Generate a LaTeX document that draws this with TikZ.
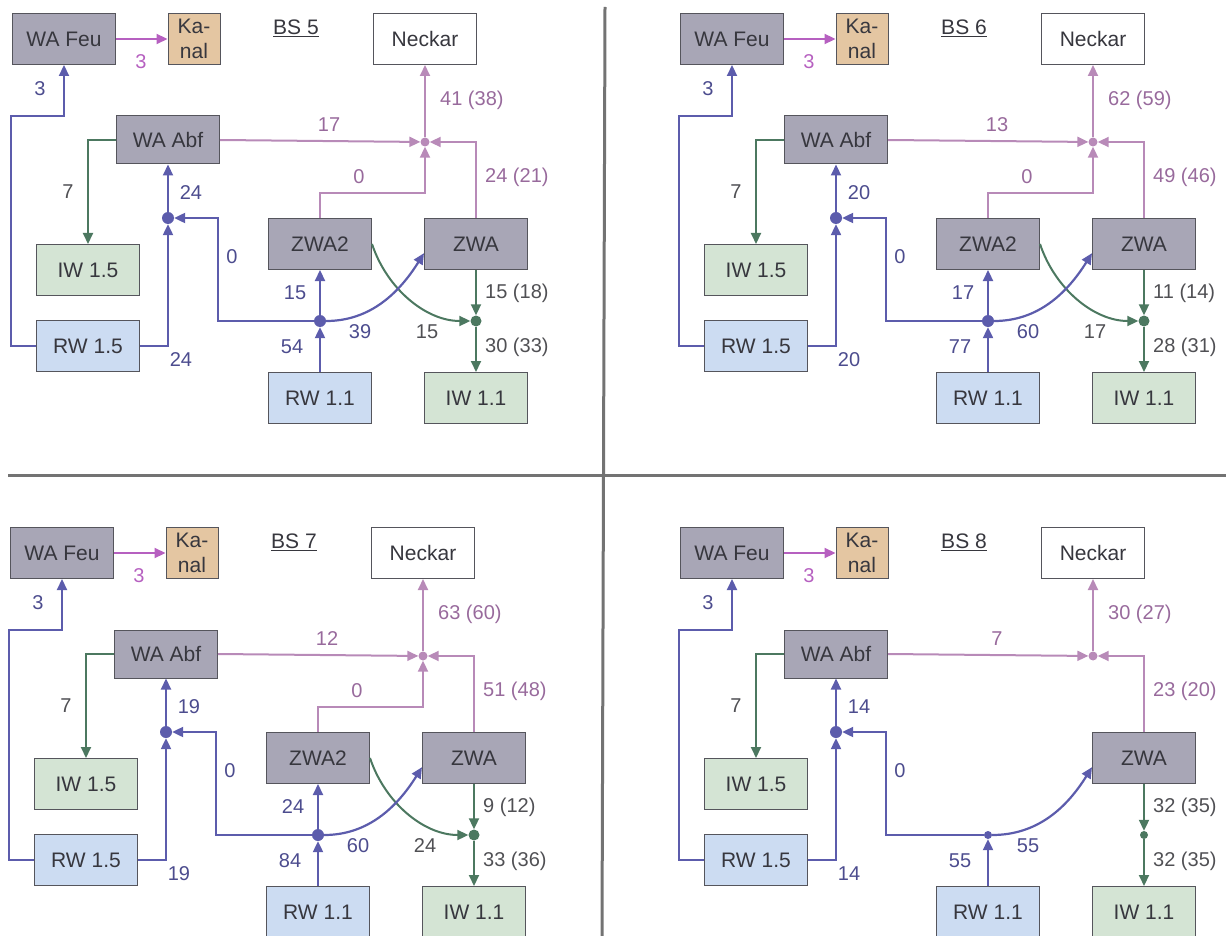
\documentclass[tikz,border=0pt]{standalone}
\usepackage{fontspec}
\setmainfont{Liberation Sans}
\usepackage{tikz}
\usetikzlibrary{arrows.meta}

\definecolor{boxgrey}{RGB}{168,166,182}
\definecolor{boxline}{RGB}{85,85,92}
\definecolor{kanalfill}{RGB}{228,198,162}
\definecolor{iwfill}{RGB}{212,228,212}
\definecolor{rwfill}{RGB}{204,220,242}
\definecolor{blueline}{RGB}{92,92,172}
\definecolor{bluetext}{RGB}{76,76,142}
\definecolor{pinkline}{RGB}{184,138,184}
\definecolor{pinktext}{RGB}{152,106,156}
\definecolor{kanalline}{RGB}{182,96,192}
\definecolor{greenline}{RGB}{76,120,96}
\definecolor{greytext}{RGB}{80,80,84}
\definecolor{boxtext}{RGB}{55,55,62}

\tikzset{
  anybox/.style={draw=boxline, line width=1, inner sep=0, align=center,
    minimum width=103, minimum height=51, text=boxtext,
    font=\fontsize{21}{25}\selectfont},
  greybox/.style={anybox, fill=boxgrey},
  kanalbox/.style={anybox, fill=kanalfill, minimum width=52},
  neckarbox/.style={anybox, fill=white},
  iwbox/.style={anybox, fill=iwfill},
  rwbox/.style={anybox, fill=rwfill},
  bstitle/.style={text=boxtext, inner sep=0, font=\fontsize{21}{25}\selectfont},
  tip/.style={-{Triangle[length=11,width=10]}},
  bline/.style={draw=blueline, line width=2.2, tip},
  pline/.style={draw=pinkline, line width=2, tip},
  kline/.style={draw=kanalline, line width=2.2, tip},
  gline/.style={draw=greenline, line width=2, tip},
  bdot/.style={circle, fill=blueline, inner sep=0, minimum size=12},
  gdot/.style={circle, fill=greenline, inner sep=0, minimum size=11},
  pdot/.style={circle, fill=pinkline, inner sep=0, minimum size=9},
  lab/.style={inner sep=0, font=\fontsize{20}{22}\selectfont},
  btext/.style={lab, text=bluetext},
  ptext/.style={lab, text=pinktext},
  ktext/.style={lab, text=kanalline},
  gtext/.style={lab, text=greytext},
  divider/.style={draw=black!55, line width=3}
}

\begin{document}
\begin{tikzpicture}[x=1pt,y=-1pt]
\useasboundingbox (0,0) rectangle (1226,936);
\draw[divider] (605,7) -- (602,936);
\draw[divider] (8,475) -- (1226,475);

% BS 5
\begin{scope}[name prefix=q5-]
\node[greybox] (feu) at (64,39) {WA Feu};
\node[kanalbox] (kanal) at (194,39) {Ka-\\nal};
\node[bstitle] (title) at (296,28) {\underline{BS 5}};
\node[neckarbox] (neckar) at (425,39) {Neckar};
\node[greybox, minimum height=48] (abf) at (168,140) {WA Abf};
\node[iwbox] (iw15) at (88,270) {IW 1.5};
\node[rwbox] (rw15) at (88,346) {RW 1.5};
\node[greybox] (zwa2) at (320,244) {ZWA2};
\node[greybox] (zwa) at (476,244) {ZWA};
\node[rwbox] (rw11) at (320,398) {RW 1.1};
\node[iwbox] (iw11) at (476,398) {IW 1.1};
\node[bdot] (j1) at (168,218) {};
\node[bdot] (j2) at (320,321) {};
\node[gdot] (j3) at (476,321) {};
\node[pdot] (j4) at (425,142) {};
\draw[kline] (feu) -- (kanal);
\draw[bline] (rw15.west) -- ++(-25,0) -- ++(0,-230) -| (feu.south);
\draw[gline] (abf.west) -| (iw15.north);
\draw[bline] (rw15.east) -| (j1);
\draw[bline] (j1) -- (abf.south);
\draw[bline] (j2) -- ++(-102,0) |- (j1);
\draw[bline] (rw11.north) -- (j2);
\draw[bline] (j2) -- (zwa2.south);
\draw[gline] (zwa2.east) .. controls +(15,45) and +(-50,0) .. (j3);
\draw[bline] (j2) .. controls +(50,0) and +(-25,40) .. (zwa.190);
\draw[gline] (zwa.south) -- (j3);
\draw[gline] (j3) -- (iw11.north);
\draw[pline] (abf.east) -- (j4);
\draw[pline] (zwa.north) |- (j4);
\draw[pline] (zwa2.north) -- ++(0,-25) -| (j4);
\draw[pline] (j4) -- (neckar.south);
%Text
\node[ktext] (tkanal) at (141,62) {3};
\node[btext] (tfeu) at (40,89) {3};
\node[gtext] (tiw15) at (68,192) {7};
\node[btext] (trw15) at (181,360) {24};
\node[btext] (tabf) at (191,193) {24};
\node[btext] (tback) at (232,257) {0};
\node[btext] (trw11) at (292,347) {54};
\node[btext] (tzwa2) at (295,293) {15};
\node[btext] (tcurve) at (360,332) {39};
\node[gtext] (tcross) at (427,332) {15};
\node[gtext, anchor=west] (tzwaout) at (485,293) {15 (18)};
\node[gtext, anchor=west] (tiw11) at (485,347) {30 (33)};
\node[ptext] (tabfout) at (329,125) {17};
\node[ptext] (tzwa2up) at (359,177) {0};
\node[ptext, anchor=west] (tzwaup) at (485,177) {24 (21)};
\node[ptext, anchor=west] (tneckar) at (440,100) {41 (38)};
\end{scope}

% BS 6
\begin{scope}[shift={(668,0)}, name prefix=q6-]
\node[greybox] (feu) at (64,39) {WA Feu};
\node[kanalbox] (kanal) at (194,39) {Ka-\\nal};
\node[bstitle] (title) at (296,28) {\underline{BS 6}};
\node[neckarbox] (neckar) at (425,39) {Neckar};
\node[greybox, minimum height=48] (abf) at (168,140) {WA Abf};
\node[iwbox] (iw15) at (88,270) {IW 1.5};
\node[rwbox] (rw15) at (88,346) {RW 1.5};
\node[greybox] (zwa2) at (320,244) {ZWA2};
\node[greybox] (zwa) at (476,244) {ZWA};
\node[rwbox] (rw11) at (320,398) {RW 1.1};
\node[iwbox] (iw11) at (476,398) {IW 1.1};
\node[bdot] (j1) at (168,218) {};
\node[bdot] (j2) at (320,321) {};
\node[gdot] (j3) at (476,321) {};
\node[pdot] (j4) at (425,142) {};
\draw[kline] (feu) -- (kanal);
\draw[bline] (rw15.west) -- ++(-25,0) -- ++(0,-230) -| (feu.south);
\draw[gline] (abf.west) -| (iw15.north);
\draw[bline] (rw15.east) -| (j1);
\draw[bline] (j1) -- (abf.south);
\draw[bline] (j2) -- ++(-102,0) |- (j1);
\draw[bline] (rw11.north) -- (j2);
\draw[bline] (j2) -- (zwa2.south);
\draw[gline] (zwa2.east) .. controls +(15,45) and +(-50,0) .. (j3);
\draw[bline] (j2) .. controls +(50,0) and +(-25,40) .. (zwa.190);
\draw[gline] (zwa.south) -- (j3);
\draw[gline] (j3) -- (iw11.north);
\draw[pline] (abf.east) -- (j4);
\draw[pline] (zwa.north) |- (j4);
\draw[pline] (zwa2.north) -- ++(0,-25) -| (j4);
\draw[pline] (j4) -- (neckar.south);
%Text
\node[ktext] (tkanal) at (141,62) {3};
\node[btext] (tfeu) at (40,89) {3};
\node[gtext] (tiw15) at (68,192) {7};
\node[btext] (trw15) at (181,360) {20};
\node[btext] (tabf) at (191,193) {20};
\node[btext] (tback) at (232,257) {0};
\node[btext] (trw11) at (292,347) {77};
\node[btext] (tzwa2) at (295,293) {17};
\node[btext] (tcurve) at (360,332) {60};
\node[gtext] (tcross) at (427,332) {17};
\node[gtext, anchor=west] (tzwaout) at (485,293) {11 (14)};
\node[gtext, anchor=west] (tiw11) at (485,347) {28 (31)};
\node[ptext] (tabfout) at (329,125) {13};
\node[ptext] (tzwa2up) at (359,177) {0};
\node[ptext, anchor=west] (tzwaup) at (485,177) {49 (46)};
\node[ptext, anchor=west] (tneckar) at (440,100) {62 (59)};
\end{scope}

% BS 7
\begin{scope}[shift={(-2,514)}, name prefix=q7-]
\node[greybox] (feu) at (64,39) {WA Feu};
\node[kanalbox] (kanal) at (194,39) {Ka-\\nal};
\node[bstitle] (title) at (296,28) {\underline{BS 7}};
\node[neckarbox] (neckar) at (425,39) {Neckar};
\node[greybox, minimum height=48] (abf) at (168,140) {WA Abf};
\node[iwbox] (iw15) at (88,270) {IW 1.5};
\node[rwbox] (rw15) at (88,346) {RW 1.5};
\node[greybox] (zwa2) at (320,244) {ZWA2};
\node[greybox] (zwa) at (476,244) {ZWA};
\node[rwbox] (rw11) at (320,398) {RW 1.1};
\node[iwbox] (iw11) at (476,398) {IW 1.1};
\node[bdot] (j1) at (168,218) {};
\node[bdot] (j2) at (320,321) {};
\node[gdot] (j3) at (476,321) {};
\node[pdot] (j4) at (425,142) {};
\draw[kline] (feu) -- (kanal);
\draw[bline] (rw15.west) -- ++(-25,0) -- ++(0,-230) -| (feu.south);
\draw[gline] (abf.west) -| (iw15.north);
\draw[bline] (rw15.east) -| (j1);
\draw[bline] (j1) -- (abf.south);
\draw[bline] (j2) -- ++(-102,0) |- (j1);
\draw[bline] (rw11.north) -- (j2);
\draw[bline] (j2) -- (zwa2.south);
\draw[gline] (zwa2.east) .. controls +(15,45) and +(-50,0) .. (j3);
\draw[bline] (j2) .. controls +(50,0) and +(-25,40) .. (zwa.190);
\draw[gline] (zwa.south) -- (j3);
\draw[gline] (j3) -- (iw11.north);
\draw[pline] (abf.east) -- (j4);
\draw[pline] (zwa.north) |- (j4);
\draw[pline] (zwa2.north) -- ++(0,-25) -| (j4);
\draw[pline] (j4) -- (neckar.south);
%Text
\node[ktext] (tkanal) at (141,62) {3};
\node[btext] (tfeu) at (40,89) {3};
\node[gtext] (tiw15) at (68,192) {7};
\node[btext] (trw15) at (181,360) {19};
\node[btext] (tabf) at (191,193) {19};
\node[btext] (tback) at (232,257) {0};
\node[btext] (trw11) at (292,347) {84};
\node[btext] (tzwa2) at (295,293) {24};
\node[btext] (tcurve) at (360,332) {60};
\node[gtext] (tcross) at (427,332) {24};
\node[gtext, anchor=west] (tzwaout) at (485,293) {9 (12)};
\node[gtext, anchor=west] (tiw11) at (485,347) {33 (36)};
\node[ptext] (tabfout) at (329,125) {12};
\node[ptext] (tzwa2up) at (359,177) {0};
\node[ptext, anchor=west] (tzwaup) at (485,177) {51 (48)};
\node[ptext, anchor=west] (tneckar) at (440,100) {63 (60)};
\end{scope}

% BS 8
\begin{scope}[shift={(668,514)}, name prefix=q8-]
\node[greybox] (feu) at (64,39) {WA Feu};
\node[kanalbox] (kanal) at (194,39) {Ka-\\nal};
\node[bstitle] (title) at (296,28) {\underline{BS 8}};
\node[neckarbox] (neckar) at (425,39) {Neckar};
\node[greybox, minimum height=48] (abf) at (168,140) {WA Abf};
\node[iwbox] (iw15) at (88,270) {IW 1.5};
\node[rwbox] (rw15) at (88,346) {RW 1.5};
\node[greybox] (zwa) at (476,244) {ZWA};
\node[rwbox] (rw11) at (320,398) {RW 1.1};
\node[iwbox] (iw11) at (476,398) {IW 1.1};
\node[bdot] (j1) at (168,218) {};
\node[bdot, minimum size=8] (j2) at (320,321) {};
\node[gdot, minimum size=8] (j3) at (476,321) {};
\node[pdot] (j4) at (425,142) {};
\draw[kline] (feu) -- (kanal);
\draw[bline] (rw15.west) -- ++(-25,0) -- ++(0,-230) -| (feu.south);
\draw[gline] (abf.west) -| (iw15.north);
\draw[bline] (rw15.east) -| (j1);
\draw[bline] (j1) -- (abf.south);
\draw[bline] (j2) -- ++(-102,0) |- (j1);
\draw[bline] (rw11.north) -- (j2);
\draw[bline] (j2) .. controls +(50,0) and +(-25,40) .. (zwa.190);
\draw[gline] (zwa.south) -- (j3);
\draw[gline] (j3) -- (iw11.north);
\draw[pline] (abf.east) -- (j4);
\draw[pline] (zwa.north) |- (j4);
\draw[pline] (j4) -- (neckar.south);
%Text
\node[ktext] (tkanal) at (141,62) {3};
\node[btext] (tfeu) at (40,89) {3};
\node[gtext] (tiw15) at (68,192) {7};
\node[btext] (trw15) at (181,360) {14};
\node[btext] (tabf) at (191,193) {14};
\node[btext] (tback) at (232,257) {0};
\node[btext] (trw11) at (292,347) {55};
\node[btext] (tcurve) at (360,332) {55};
\node[gtext, anchor=west] (tzwaout) at (485,293) {32 (35)};
\node[gtext, anchor=west] (tiw11) at (485,347) {32 (35)};
\node[ptext] (tabfout) at (329,125) {7};
\node[ptext, anchor=west] (tzwaup) at (485,177) {23 (20)};
\node[ptext, anchor=west] (tneckar) at (440,100) {30 (27)};
\end{scope}
\end{tikzpicture}
\end{document}
